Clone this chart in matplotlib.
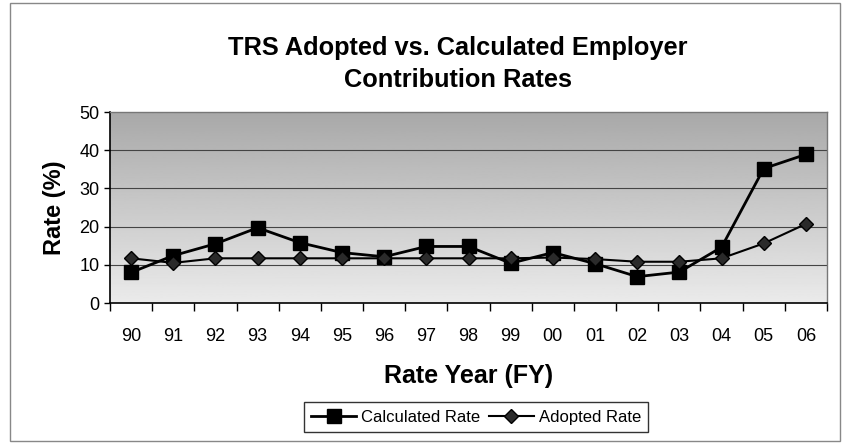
import numpy as np
import matplotlib
matplotlib.use("Agg")
import matplotlib.pyplot as plt
from matplotlib.patches import Rectangle

plt.rcParams['font.family'] = ['Liberation Sans', 'DejaVu Sans']

# Data
years = ['90', '91', '92', '93', '94', '95', '96', '97', '98',
         '99', '00', '01', '02', '03', '04', '05', '06']
calculated = [8.0, 12.4, 15.5, 19.7, 15.8, 13.2, 12.1, 14.8, 14.8,
              10.4, 13.2, 10.3, 6.9, 8.1, 14.6, 35.2, 38.9]
adopted = [11.7, 10.5, 11.7, 11.7, 11.7, 11.7, 11.7, 11.7, 11.7,
           11.7, 11.9, 11.5, 10.8, 10.8, 11.7, 15.6, 20.7]
y_ticks = [0, 10, 20, 30, 40, 50]

fig = plt.figure(figsize=(8.5, 4.44), dpi=100)
ax = fig.add_axes([110 / 850, 1 - 303 / 444, 717 / 850, 191 / 444])

x = np.arange(len(years))
ax.set_xlim(-0.5, len(years) - 0.5)
ax.set_ylim(0, 50)

# gradient plot-area background (dark at top, light at bottom)
grad = np.linspace(0.92, 0.66, 256).reshape(-1, 1)
ax.imshow(grad, extent=[-0.5, len(years) - 0.5, 0, 50], aspect='auto',
          cmap='gray', vmin=0, vmax=1, origin='lower', zorder=0)

for yv in y_ticks[1:-1]:
    ax.axhline(yv, color='#444444', linewidth=0.8, zorder=1)

ax.plot(x, calculated, color='black', linewidth=2, marker='s', markersize=10,
        label='Calculated Rate', zorder=3)
ax.plot(x, adopted, color='black', linewidth=1.5, marker='D', markersize=7,
        markerfacecolor='#2a2a2a', label='Adopted Rate', zorder=3)

ax.set_yticks(y_ticks)
ax.tick_params(axis='y', labelsize=13, direction='out', length=4, width=1)
ax.set_xticks(x)
ax.set_xticklabels(years, fontsize=13)
ax.set_xticks(np.arange(-0.5, len(years)), minor=True)
ax.tick_params(axis='x', which='major', length=0, pad=18)
ax.tick_params(axis='x', which='minor', length=6, width=1, direction='out')

for side in ['left', 'bottom']:
    ax.spines[side].set_color('black')
    ax.spines[side].set_linewidth(1.2)
for side in ['top', 'right']:
    ax.spines[side].set_color('#777777')
    ax.spines[side].set_linewidth(1)

ax.set_ylabel('Rate (%)', fontsize=17, fontweight='bold', labelpad=10)
ax.set_xlabel('Rate Year (FY)', fontsize=18, fontweight='bold', labelpad=14)
fig.text(458 / 850, 1 - 64 / 444, 'TRS Adopted vs. Calculated Employer\nContribution Rates',
         ha='center', va='center', fontsize=18.3, fontweight='bold', linespacing=1.45)

leg = fig.legend(loc='center', bbox_to_anchor=(476 / 850, 1 - 417 / 444), ncol=2,
                 fontsize=12, frameon=True, fancybox=False, edgecolor='black',
                 handlelength=2.7, handletextpad=0.3, columnspacing=0.5,
                 borderpad=0.45)
leg.get_frame().set_linewidth(1)

fig.patches.append(Rectangle((10 / 850, 3 / 444), 830 / 850, 438 / 444,
                             transform=fig.transFigure, fill=False,
                             edgecolor='#888888', linewidth=1))

fig.savefig('out.png', dpi=100)
